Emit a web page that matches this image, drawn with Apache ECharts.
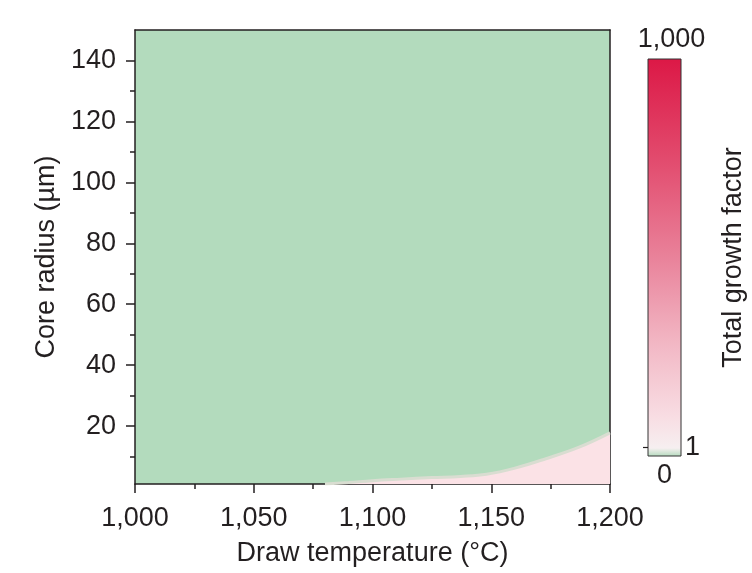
<!DOCTYPE html>
<html>
<head>
<meta charset="utf-8">
<title>Total growth factor</title>
<script src="https://cdn.jsdelivr.net/npm/echarts@6.0.0/dist/echarts.min.js"></script>
<style>
    html, body { margin: 0; padding: 0; background: #fff; }
    #chart-heat { width: 752px; height: 573px; }
</style>
</head>
<body>
<div id="chart-heat"></div>
<script>
// edge of the region where the growth factor goes above 1
const boundaryTemp = [1080, 1090, 1100, 1112, 1125, 1137, 1148, 1160, 1173, 1187, 1200];
const boundaryRadius = [1, 1.5, 2.1, 2.6, 3.1, 3.5, 4.2, 6.2, 9.3, 13.1, 17.8];

const radiusTicks = [20, 40, 60, 80, 100, 120, 140];
const radiusMinorTicks = [10, 30, 50, 70, 90, 110, 130];

// colour bar: position along the bar (0 = bottom, 1 = top) and its labels
const barStops = [0, 0.021, 1];
const barLabels = ['0', '1', '1,000'];

const ink = '#231f20';
const font = 'Liberation Sans';
const fs = 27;

let chartHeat = echarts.init(document.getElementById('chart-heat'));

let tickStyle = { color: ink, width: 1.5 };

chartHeat.setOption({
    backgroundColor: '#fff',
    animation: false,
    textStyle: { fontFamily: font, color: ink },
    grid: [{
        left: 135,
        top: 30,
        width: 475,
        height: 454,
        show: true,
        backgroundColor: '#b3dbbd',
        borderWidth: 0
    }, {
        left: 648,
        top: 59,
        width: 33,
        height: 397,
        show: true,
        borderColor: '#333',
        borderWidth: 1,
        backgroundColor: {
            type: 'linear', x: 0, y: 0, x2: 0, y2: 1,
            colorStops: [
                { offset: 0, color: '#dc1846' },
                { offset: 0.25, color: '#e24a6d' },
                { offset: 0.5, color: '#e9829a' },
                { offset: 0.72, color: '#f2b8c5' },
                { offset: 0.9, color: '#f8dde3' },
                { offset: 1 - barStops[1], color: '#f6eff0' },
                { offset: 1, color: '#b3dbbd' }
            ]
        }
    }],
    xAxis: [{
        gridIndex: 0,
        type: 'value',
        min: 1000,
        max: 1200,
        interval: 50,
        axisLine: { lineStyle: tickStyle },
        axisTick: { length: 9, lineStyle: tickStyle },
        minorTick: { show: true, splitNumber: 2, length: 5, lineStyle: tickStyle },
        splitLine: { show: false },
        axisLabel: {
            fontSize: fs,
            color: ink,
            margin: 21,
            formatter: v => v.toLocaleString('en-US')
        },
        name: 'Draw temperature (°C)',
        nameLocation: 'middle',
        nameGap: 56,
        nameTextStyle: { fontSize: fs, color: ink }
    }, {
        gridIndex: 0,
        type: 'value',
        position: 'top',
        min: 1000,
        max: 1200,
        axisLine: { lineStyle: tickStyle },
        axisTick: { show: false },
        axisLabel: { show: false },
        splitLine: { show: false }
    }, {
        gridIndex: 1,
        type: 'value',
        min: 0,
        max: 1,
        axisLine: { show: false },
        axisTick: { show: false },
        axisLabel: { show: false },
        splitLine: { show: false },
        name: barLabels[0],
        nameLocation: 'middle',
        nameGap: 6,
        nameTextStyle: { fontSize: fs, color: ink }
    }, {
        gridIndex: 1,
        type: 'value',
        position: 'top',
        min: 0,
        max: 1,
        axisLine: { show: false },
        axisTick: { show: false },
        axisLabel: { show: false },
        splitLine: { show: false },
        name: barLabels[2],
        nameLocation: 'middle',
        nameGap: 6,
        nameTextStyle: { fontSize: fs, color: ink, padding: [0, 0, 0, 14] }
    }],
    yAxis: [{
        gridIndex: 0,
        type: 'value',
        min: 1,
        max: 150,
        axisLine: { lineStyle: tickStyle },
        axisTick: { length: 9, lineStyle: tickStyle, customValues: radiusTicks },
        splitLine: { show: false },
        axisLabel: {
            fontSize: fs,
            color: ink,
            margin: 19,
            customValues: radiusTicks
        },
        name: 'Core radius (µm)',
        nameLocation: 'middle',
        nameGap: 75,
        nameTextStyle: { fontSize: fs, color: ink }
    }, {
        gridIndex: 0,
        type: 'value',
        position: 'left',
        offset: 0,
        min: 1,
        max: 150,
        axisLine: { show: false },
        axisTick: { length: 5, lineStyle: tickStyle, customValues: radiusMinorTicks },
        axisLabel: { show: false },
        splitLine: { show: false }
    }, {
        gridIndex: 0,
        type: 'value',
        position: 'right',
        min: 1,
        max: 150,
        axisLine: { lineStyle: tickStyle },
        axisTick: { show: false },
        axisLabel: { show: false },
        splitLine: { show: false }
    }, {
        gridIndex: 1,
        type: 'value',
        position: 'right',
        min: 0,
        max: 1,
        axisLine: { show: false },
        axisTick: {
            inside: true,
            length: 5,
            lineStyle: { color: ink, width: 1.2 },
            customValues: [barStops[1]]
        },
        axisLabel: {
            fontSize: fs,
            color: ink,
            margin: 4,
            customValues: [barStops[1]],
            formatter: () => barLabels[1]
        },
        splitLine: { show: false },
        name: 'Total growth factor',
        nameLocation: 'middle',
        nameGap: 39,
        nameTextStyle: { fontSize: fs, color: ink }
    }],
    series: [{
        type: 'line',
        xAxisIndex: 0,
        yAxisIndex: 0,
        smooth: 0.4,
        symbol: 'none',
        lineStyle: { color: '#d9ddd1', width: 3 },
        areaStyle: { color: '#fbe2e6', opacity: 1, origin: 'start' },
        data: boundaryTemp.map((t, i) => [t, boundaryRadius[i]])
    }]
});
</script>
</body>
</html>
